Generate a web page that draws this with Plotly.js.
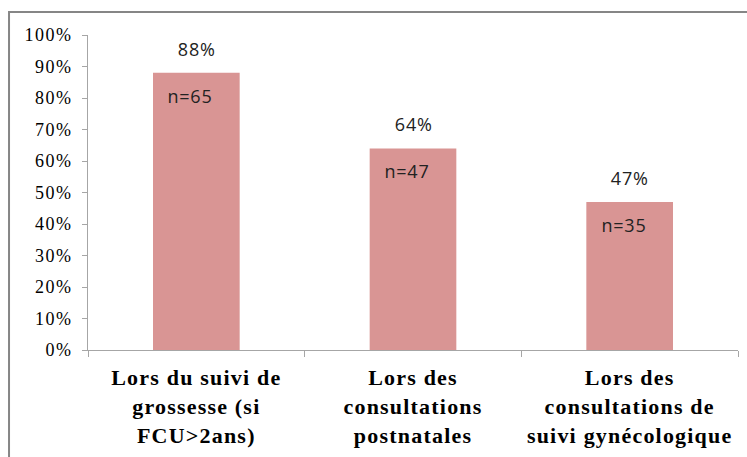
<!DOCTYPE html>
<html>
<head>
<meta charset="utf-8">
<script src="https://cdn.plot.ly/plotly-3.0.1.min.js"></script>
<style>
body{margin:0;padding:0;background:#fff;}
#chart{width:747px;height:457px;}
#chart .xtick text{letter-spacing:1.2px;}
#chart .ytick text{letter-spacing:1.5px;}
#chart .annotation-text{letter-spacing:0.8px;}
</style>
</head>
<body>
<div id="chart"></div>
<script>
const categories = [
  "Lors du suivi de<br>grossesse (si<br>FCU>2ans)",
  "Lors des<br>consultations<br>postnatales",
  "Lors des<br>consultations de<br>suivi gynécologique"
];
const percentValues = [0.88, 0.64, 0.47];
const percentLabels = ["88%", "64%", "47%"];
const countLabels = ["n=65", "n=47", "n=35"];
const yTickVals = [0, 0.1, 0.2, 0.3, 0.4, 0.5, 0.6, 0.7, 0.8, 0.9, 1.0];
const yTickText = ["0%", "10%", "20%", "30%", "40%", "50%", "60%", "70%", "80%", "90%", "100%"];

const serif = "'Liberation Serif', 'Times New Roman', Times, serif";
const sans = "'Open Sans', 'Liberation Sans', sans-serif";

const trace = {
  type: "bar",
  x: categories,
  y: percentValues,
  marker: {color: "#d99594"},
  hoverinfo: "none"
};

const annotations = [];
categories.forEach((c, i) => {
  annotations.push({
    x: c, y: percentValues[i], xref: "x", yref: "y",
    text: percentLabels[i], showarrow: false,
    yanchor: "bottom", yshift: 10,
    font: {family: sans, size: 18, color: "#222"}
  });
  annotations.push({
    x: c, y: percentValues[i], xref: "x", yref: "y",
    text: countLabels[i], showarrow: false,
    yanchor: "top", yshift: -9, xshift: -6,
    font: {family: sans, size: 18, color: "#222"}
  });
});

const layout = {
  width: 747, height: 457,
  margin: {l: 88, r: 9, t: 35, b: 107},
  paper_bgcolor: "#fff", plot_bgcolor: "#fff",
  showlegend: false,
  bargap: 0.6,
  xaxis: {
    type: "category",
    showline: true, linecolor: "#a6a6a6", linewidth: 1,
    ticks: "outside", tickson: "boundaries", ticklen: 6, tickcolor: "#a6a6a6",
    showgrid: false, zeroline: false,
    tickfont: {family: serif, size: 22, color: "#000", weight: "bold"},
    ticklabelstandoff: 8,
    fixedrange: true
  },
  yaxis: {
    range: [0, 1.0],
    tickvals: yTickVals, ticktext: yTickText,
    showline: true, linecolor: "#a6a6a6", linewidth: 1,
    ticks: "outside", ticklen: 5, tickcolor: "#a6a6a6",
    showgrid: false, zeroline: false,
    tickfont: {family: serif, size: 18, color: "#000"},
    ticklabelstandoff: 6,
    fixedrange: true
  },
  annotations: annotations,
  shapes: [{
    type: "rect", xref: "paper", yref: "paper",
    x0: -0.1215, x1: 1.2, y0: -0.5, y1: 1.073,
    line: {color: "#868686", width: 2}, fillcolor: "rgba(0,0,0,0)", layer: "below"
  }]
};

Plotly.newPlot("chart", [trace], layout, {displayModeBar: false, staticPlot: true});
</script>
</body>
</html>
